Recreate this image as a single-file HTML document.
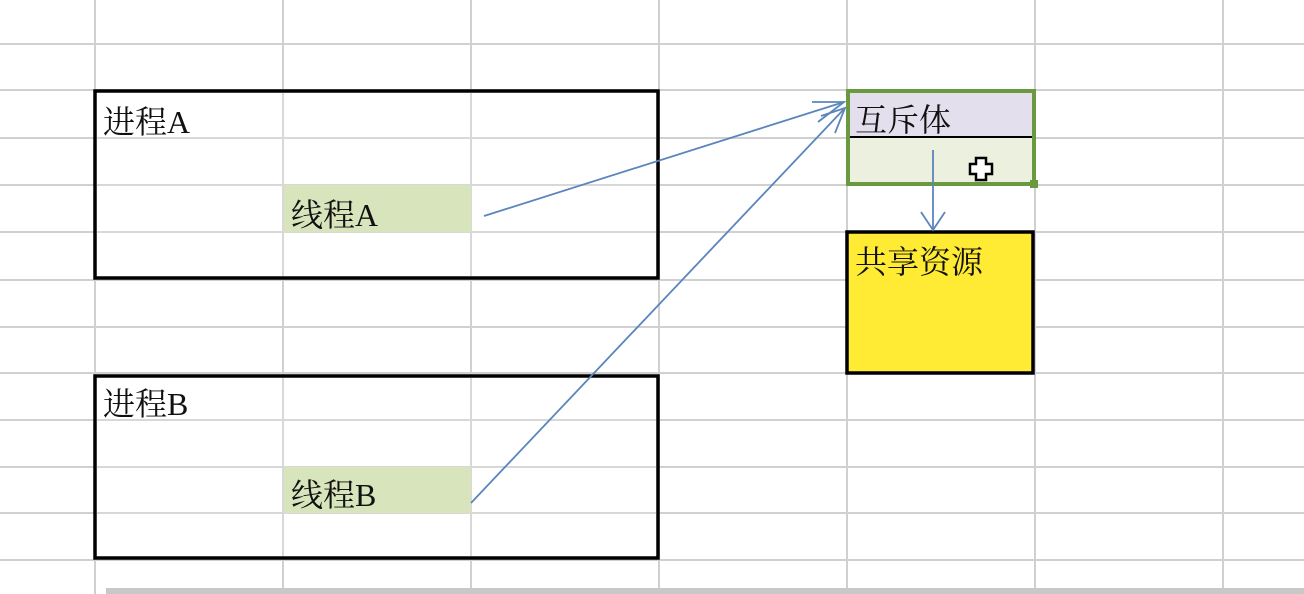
<!DOCTYPE html>
<html><head><meta charset="utf-8"><style>
body{margin:0;width:1304px;height:594px;overflow:hidden;background:#fff;font-family:"Liberation Serif","Noto Serif CJK SC",serif}
</style></head><body>
<svg width="1304" height="594" style="position:absolute;left:0;top:0">
<g stroke="#d0d0d0" stroke-width="2">
<line x1="95" y1="0" x2="95" y2="594"/><line x1="283" y1="0" x2="283" y2="594"/><line x1="471" y1="0" x2="471" y2="594"/><line x1="659" y1="0" x2="659" y2="594"/><line x1="847" y1="0" x2="847" y2="594"/><line x1="1035" y1="0" x2="1035" y2="594"/><line x1="1223" y1="0" x2="1223" y2="594"/>
<line x1="0" y1="44" x2="1304" y2="44"/><line x1="0" y1="90" x2="1304" y2="90"/><line x1="0" y1="138" x2="1304" y2="138"/><line x1="0" y1="185" x2="1304" y2="185"/><line x1="0" y1="232" x2="1304" y2="232"/><line x1="0" y1="280" x2="1304" y2="280"/><line x1="0" y1="327" x2="1304" y2="327"/><line x1="0" y1="373" x2="1304" y2="373"/><line x1="0" y1="420" x2="1304" y2="420"/><line x1="0" y1="467" x2="1304" y2="467"/><line x1="0" y1="513" x2="1304" y2="513"/><line x1="0" y1="560" x2="1304" y2="560"/>
</g>
<rect x="106" y="588" width="1198" height="6" fill="#c8c8c8"/>
<rect x="95" y="91" width="563" height="187" fill="#fff" stroke="#000" stroke-width="3.5"/>
<rect x="95" y="376" width="563" height="182" fill="#fff" stroke="#000" stroke-width="3.5"/>
<g stroke="#d8d8d8" stroke-width="2">
<line x1="97" y1="138" x2="656" y2="138"/><line x1="97" y1="185" x2="656" y2="185"/><line x1="97" y1="232" x2="656" y2="232"/><line x1="283" y1="93" x2="283" y2="276"/><line x1="471" y1="93" x2="471" y2="276"/>
<line x1="97" y1="420" x2="656" y2="420"/><line x1="97" y1="467" x2="656" y2="467"/><line x1="97" y1="513" x2="656" y2="513"/><line x1="283" y1="378" x2="283" y2="556"/><line x1="471" y1="378" x2="471" y2="556"/>
</g>
<rect x="284" y="185" width="187" height="47" fill="#d8e4bc"/>
<rect x="284" y="467" width="187" height="46" fill="#d8e4bc"/>
<rect x="848" y="91" width="186" height="46" fill="#e4dfec"/>
<rect x="848" y="137" width="186" height="47" fill="#ebf1de"/>
<line x1="849" y1="137" x2="1033" y2="137" stroke="#000" stroke-width="2"/>
<rect x="848" y="91" width="186" height="93" fill="none" stroke="#6a9a3f" stroke-width="4"/>
<rect x="1030" y="180" width="8" height="8" fill="#6a9a3f"/>
<rect x="847" y="232" width="186" height="141" fill="#ffeb33" stroke="#000" stroke-width="3.5"/>
<g stroke="#5b85bd" stroke-width="1.8" fill="none">
<line x1="484" y1="216" x2="844" y2="102"/><polyline points="812,102 844,102 818,122"/>
<line x1="471" y1="503" x2="845" y2="108"/><polyline points="821,116 845,108 835,133"/>
<line x1="933" y1="150" x2="933" y2="230"/><polyline points="921,212 933,230 945,212"/>
</g>
<path d="M976 158h10v6h6v10h-6v6h-10v-6h-6v-10h6z" fill="#fff" stroke="#000" stroke-width="2.5"/>
<g font-size="32" fill="#111" font-family="Liberation Serif,'Noto Serif CJK SC',serif">
<text x="103" y="133">进程A</text>
<text x="103" y="415">进程B</text>
<text x="291" y="226">线程A</text>
<text x="291" y="506">线程B</text>
<text x="855" y="131">互斥体</text>
<text x="855" y="273">共享资源</text>
</g>
</svg>
</body></html>
